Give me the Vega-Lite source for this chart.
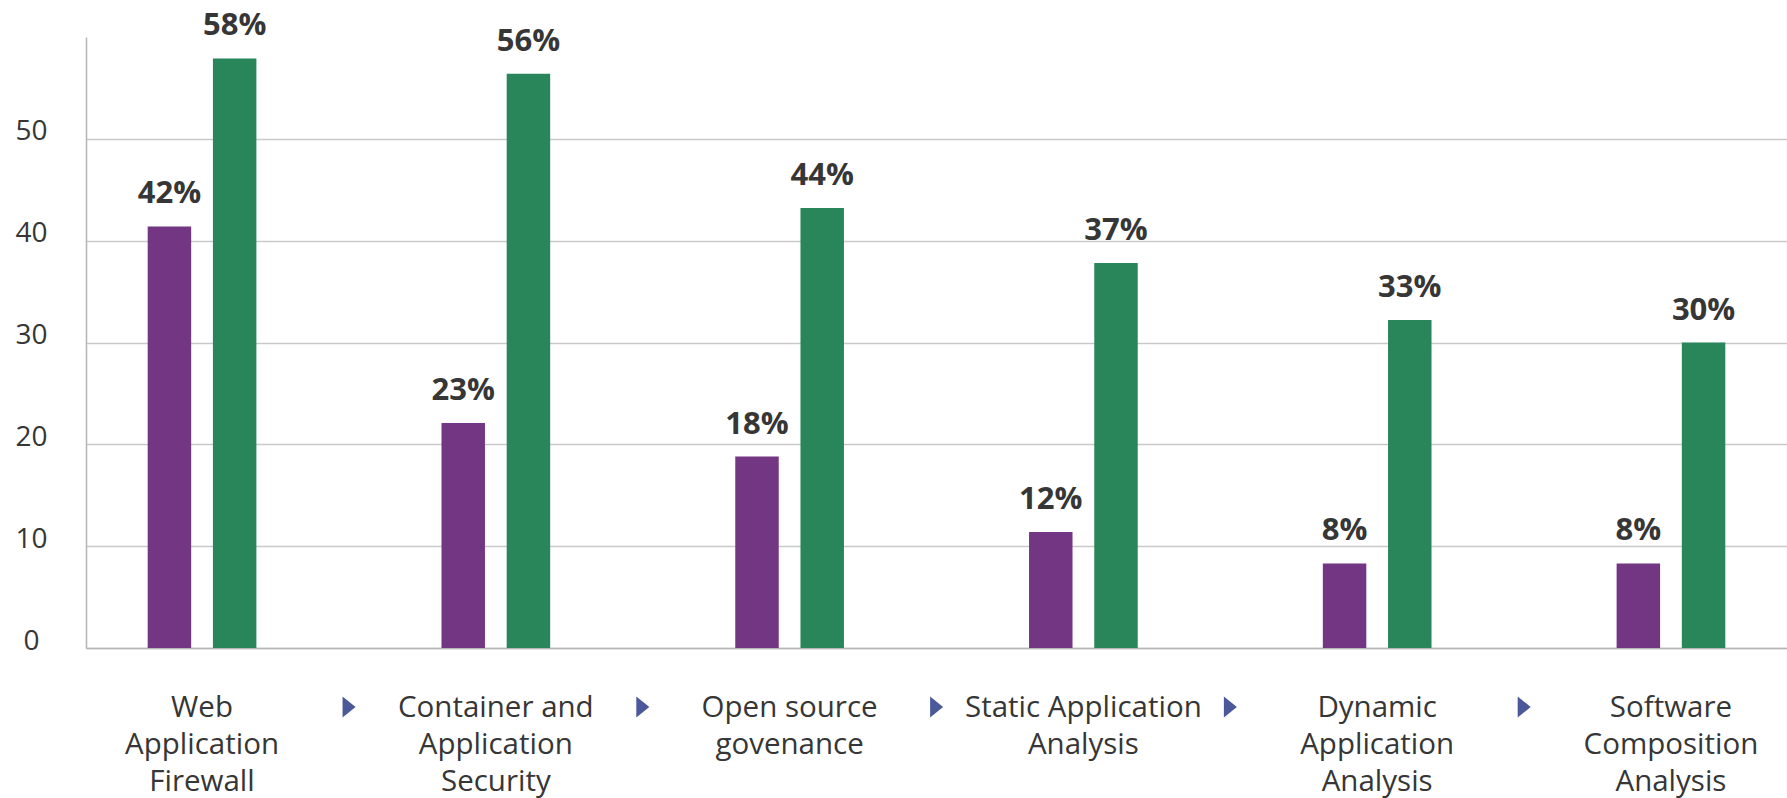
{
  "$schema": "https://vega.github.io/schema/vega-lite/v6.json",
  "width": 1701,
  "height": 611,
  "autosize": {"type": "none"},
  "padding": {"left": 86, "top": 37, "right": 0, "bottom": 150},
  "background": "white",
  "config": {"view": {"stroke": null}, "font": "Open Sans"},
  "datasets": {
    "bars": [
      {"category": "Web|Application|Firewall", "series": "Group 1", "value": 41.4, "label": "42%"},
      {"category": "Web|Application|Firewall", "series": "Group 2", "value": 57.9, "label": "58%"},
      {"category": "Container and|Application|Security", "series": "Group 1", "value": 22.1, "label": "23%"},
      {"category": "Container and|Application|Security", "series": "Group 2", "value": 56.4, "label": "56%"},
      {"category": "Open source|govenance", "series": "Group 1", "value": 18.8, "label": "18%"},
      {"category": "Open source|govenance", "series": "Group 2", "value": 43.2, "label": "44%"},
      {"category": "Static Application|Analysis", "series": "Group 1", "value": 11.4, "label": "12%"},
      {"category": "Static Application|Analysis", "series": "Group 2", "value": 37.8, "label": "37%"},
      {"category": "Dynamic|Application|Analysis", "series": "Group 1", "value": 8.3, "label": "8%"},
      {"category": "Dynamic|Application|Analysis", "series": "Group 2", "value": 32.2, "label": "33%"},
      {"category": "Software|Composition|Analysis", "series": "Group 1", "value": 8.3, "label": "8%"},
      {"category": "Software|Composition|Analysis", "series": "Group 2", "value": 30.0, "label": "30%"}
    ],
    "arrows": [
      {"category": "Web|Application|Firewall"},
      {"category": "Container and|Application|Security"},
      {"category": "Open source|govenance"},
      {"category": "Static Application|Analysis"},
      {"category": "Dynamic|Application|Analysis"}
    ]
  },
  "encoding": {
    "x": {
      "field": "category",
      "type": "nominal",
      "sort": null,
      "scale": {
        "domain": ["Web|Application|Firewall", "Container and|Application|Security", "Open source|govenance", "Static Application|Analysis", "Dynamic|Application|Analysis", "Software|Composition|Analysis"],
        "paddingInner": 0.63,
        "paddingOuter": 0.21
      },
      "axis": {
        "title": null,
        "labelExpr": "split(datum.label, '|')",
        "labelAngle": 0,
        "labelFontSize": 29.5,
        "labelColor": "#363636",
        "labelLineHeight": 37,
        "labelBaseline": "top",
        "labelLimit": 0,
        "labelPadding": 45,
        "ticks": false,
        "tickSize": 0,
        "domainColor": "#b5b5b5",
        "domainWidth": 1.5,
        "grid": false
      }
    }
  },
  "layer": [
    {
      "data": {"name": "bars"},
      "mark": {"type": "bar"},
      "encoding": {
        "xOffset": {"field": "series", "type": "nominal", "scale": {"paddingInner": 0.3333, "paddingOuter": 0}},
        "y": {
          "field": "value",
          "type": "quantitative",
          "scale": {"domain": [0, 60], "nice": false, "zero": true},
          "axis": {
            "title": null,
            "values": [0, 10, 20, 30, 40, 50],
            "grid": true,
            "gridColor": "#c9c9c9",
            "gridWidth": 1.5,
            "domainColor": "#b5b5b5",
            "domainWidth": 1.5,
            "ticks": false,
            "tickSize": 0,
            "labelAlign": "center",
            "labelPadding": 55,
            "labelOffset": -7,
            "labelFontSize": 28,
            "labelColor": "#363636"
          }
        },
        "color": {
          "field": "series",
          "type": "nominal",
          "scale": {"domain": ["Group 1", "Group 2"], "range": ["#733682", "#29855a"]},
          "legend": null
        }
      }
    },
    {
      "data": {"name": "bars"},
      "mark": {"type": "text", "baseline": "alphabetic", "align": "center", "dy": -23, "fontSize": 31, "fontWeight": "bold", "color": "#363636"},
      "encoding": {
        "xOffset": {"field": "series", "type": "nominal", "scale": {"paddingInner": 0.3333, "paddingOuter": 0}},
        "y": {"field": "value", "type": "quantitative"},
        "text": {"field": "label"}
      }
    },
    {
      "data": {"name": "arrows"},
      "mark": {
        "type": "point",
        "shape": "M-0.62,-1L0.62,0L-0.62,1Z",
        "filled": true,
        "size": 441,
        "opacity": 1,
        "color": "#4b5899",
        "xOffset": 147,
        "yOffset": 59
      },
      "encoding": {
        "y": {"datum": 0, "type": "quantitative"}
      }
    }
  ]
}
